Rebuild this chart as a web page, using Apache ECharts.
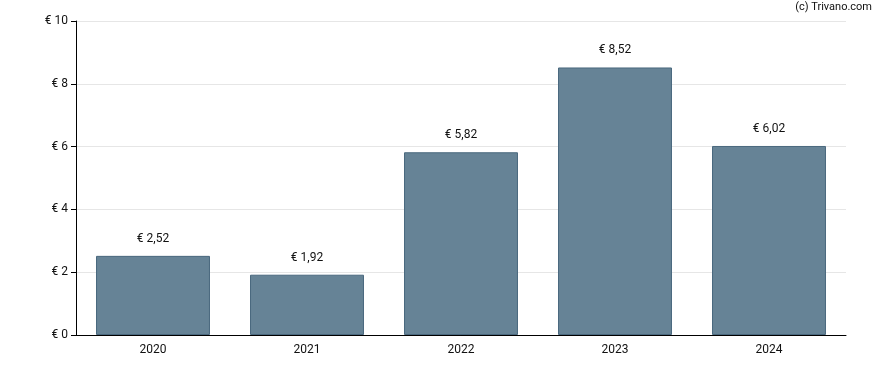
<!DOCTYPE html>
<html><head><meta charset="utf-8">
<script src="https://cdn.jsdelivr.net/npm/echarts@6/dist/echarts.min.js"></script>
<style>html,body{margin:0;padding:0;background:#fff}#c{width:888px;height:370px}</style>
</head><body><div id="c"></div>
<script>
const categories = ['2020','2021','2022','2023','2024'];
const values = [2.52, 1.92, 5.82, 8.52, 6.02];
const yTicks = [0, 2, 4, 6, 8, 10];
const fmt = v => '€ ' + String(v).replace('.', ',');
const chart = echarts.init(document.getElementById('c'), null, {renderer:'canvas'});
chart.setOption({
  animation:false,
  textStyle:{fontFamily:'Roboto'},
  graphic:[{type:'text', right:16, top:2, style:{text:'(c) Trivano.com', font:'11px Roboto', fill:'#111'}}],
  grid:{left:76, right:42, top:21, bottom:35},
  xAxis:{type:'category', data:categories,
    axisLine:{lineStyle:{color:'#000', width:1}},
    axisTick:{alignWithLabel:true, length:5, lineStyle:{color:'#000'}},
    axisLabel:{color:'#111', fontSize:12, margin:9, fontFamily:'Roboto'}},
  yAxis:{type:'value', min:yTicks[0], max:yTicks[yTicks.length-1], interval:2,
    axisLine:{show:true, lineStyle:{color:'#000'}},
    axisTick:{show:true, length:5, lineStyle:{color:'#000'}},
    splitLine:{lineStyle:{color:'#e6e6e6'}},
    axisLabel:{color:'#111', fontSize:12, margin:8, formatter:v=>'€ '+v, fontFamily:'Roboto'}},
  series:[{type:'bar', data:values, barWidth:'74%',
    itemStyle:{color:'#668396', borderColor:'#4a687e', borderWidth:1},
    label:{show:true, position:'top', distance:11, color:'#111', fontSize:12, fontFamily:'Roboto', formatter:p=>fmt(p.value)}}]
});
</script></body></html>
